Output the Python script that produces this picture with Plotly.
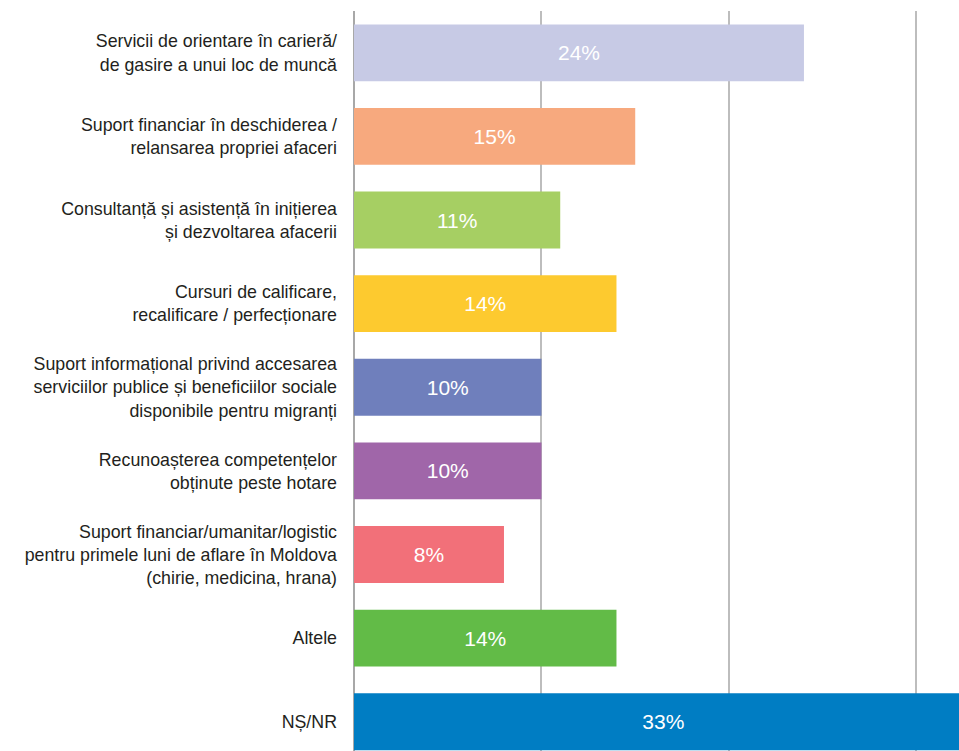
import plotly.graph_objects as go

categories = [
    "Servicii de orientare în carieră/<br>de gasire a unui loc de muncă",
    "Suport financiar în deschiderea /<br>relansarea propriei afaceri",
    "Consultanță și asistență în inițierea<br>și dezvoltarea afacerii",
    "Cursuri de calificare,<br>recalificare / perfecționare",
    "Suport informațional privind accesarea<br>serviciilor publice și beneficiilor sociale<br>disponibile pentru migranți",
    "Recunoașterea competențelor<br>obținute peste hotare",
    "Suport financiar/umanitar/logistic<br>pentru primele luni de aflare în Moldova<br>(chirie, medicina, hrana)",
    "Altele",
    "NȘ/NR",
]
values = [24, 15, 11, 14, 10, 10, 8, 14, 33]
colors = ["#c7cae5", "#f7a97e", "#a6cf63", "#fdca2f", "#6f7fbc",
          "#a066a9", "#f27079", "#62bb47", "#007dc3"]

fig = go.Figure(
    go.Bar(
        x=values,
        y=list(range(len(categories))),
        orientation="h",
        marker=dict(color=colors, line=dict(width=0)),
        text=[f"{v}%" for v in values],
        textposition="inside",
        insidetextanchor="middle",
        textangle=0,
        textfont=dict(family="Liberation Sans, Arial, sans-serif", size=21, color="white"),
        constraintext="none",
        cliponaxis=True,
        width=0.68,
    )
)

fig.update_layout(
    width=959,
    height=751,
    margin=dict(l=354, r=0, t=11, b=0),
    paper_bgcolor="white",
    plot_bgcolor="white",
    showlegend=False,
    xaxis=dict(
        range=[0, 32.27],
        tickvals=[0, 10, 20, 30],
        showticklabels=False,
        showgrid=True,
        gridcolor="#bdbdbd",
        gridwidth=1.5,
        zeroline=True,
        zerolinecolor="#a8a8a8",
        zerolinewidth=1.5,
        fixedrange=True,
    ),
    yaxis=dict(
        range=[8.35, -0.5],
        tickvals=list(range(len(categories))),
        ticktext=categories,
        showgrid=False,
        zeroline=False,
        ticks="",
        automargin=False,
        ticklabelstandoff=16,
        tickfont=dict(family="Liberation Sans, Arial, sans-serif", size=17.8, color="#231f20"),
        fixedrange=True,
    ),
)

fig.write_html("out.html")
